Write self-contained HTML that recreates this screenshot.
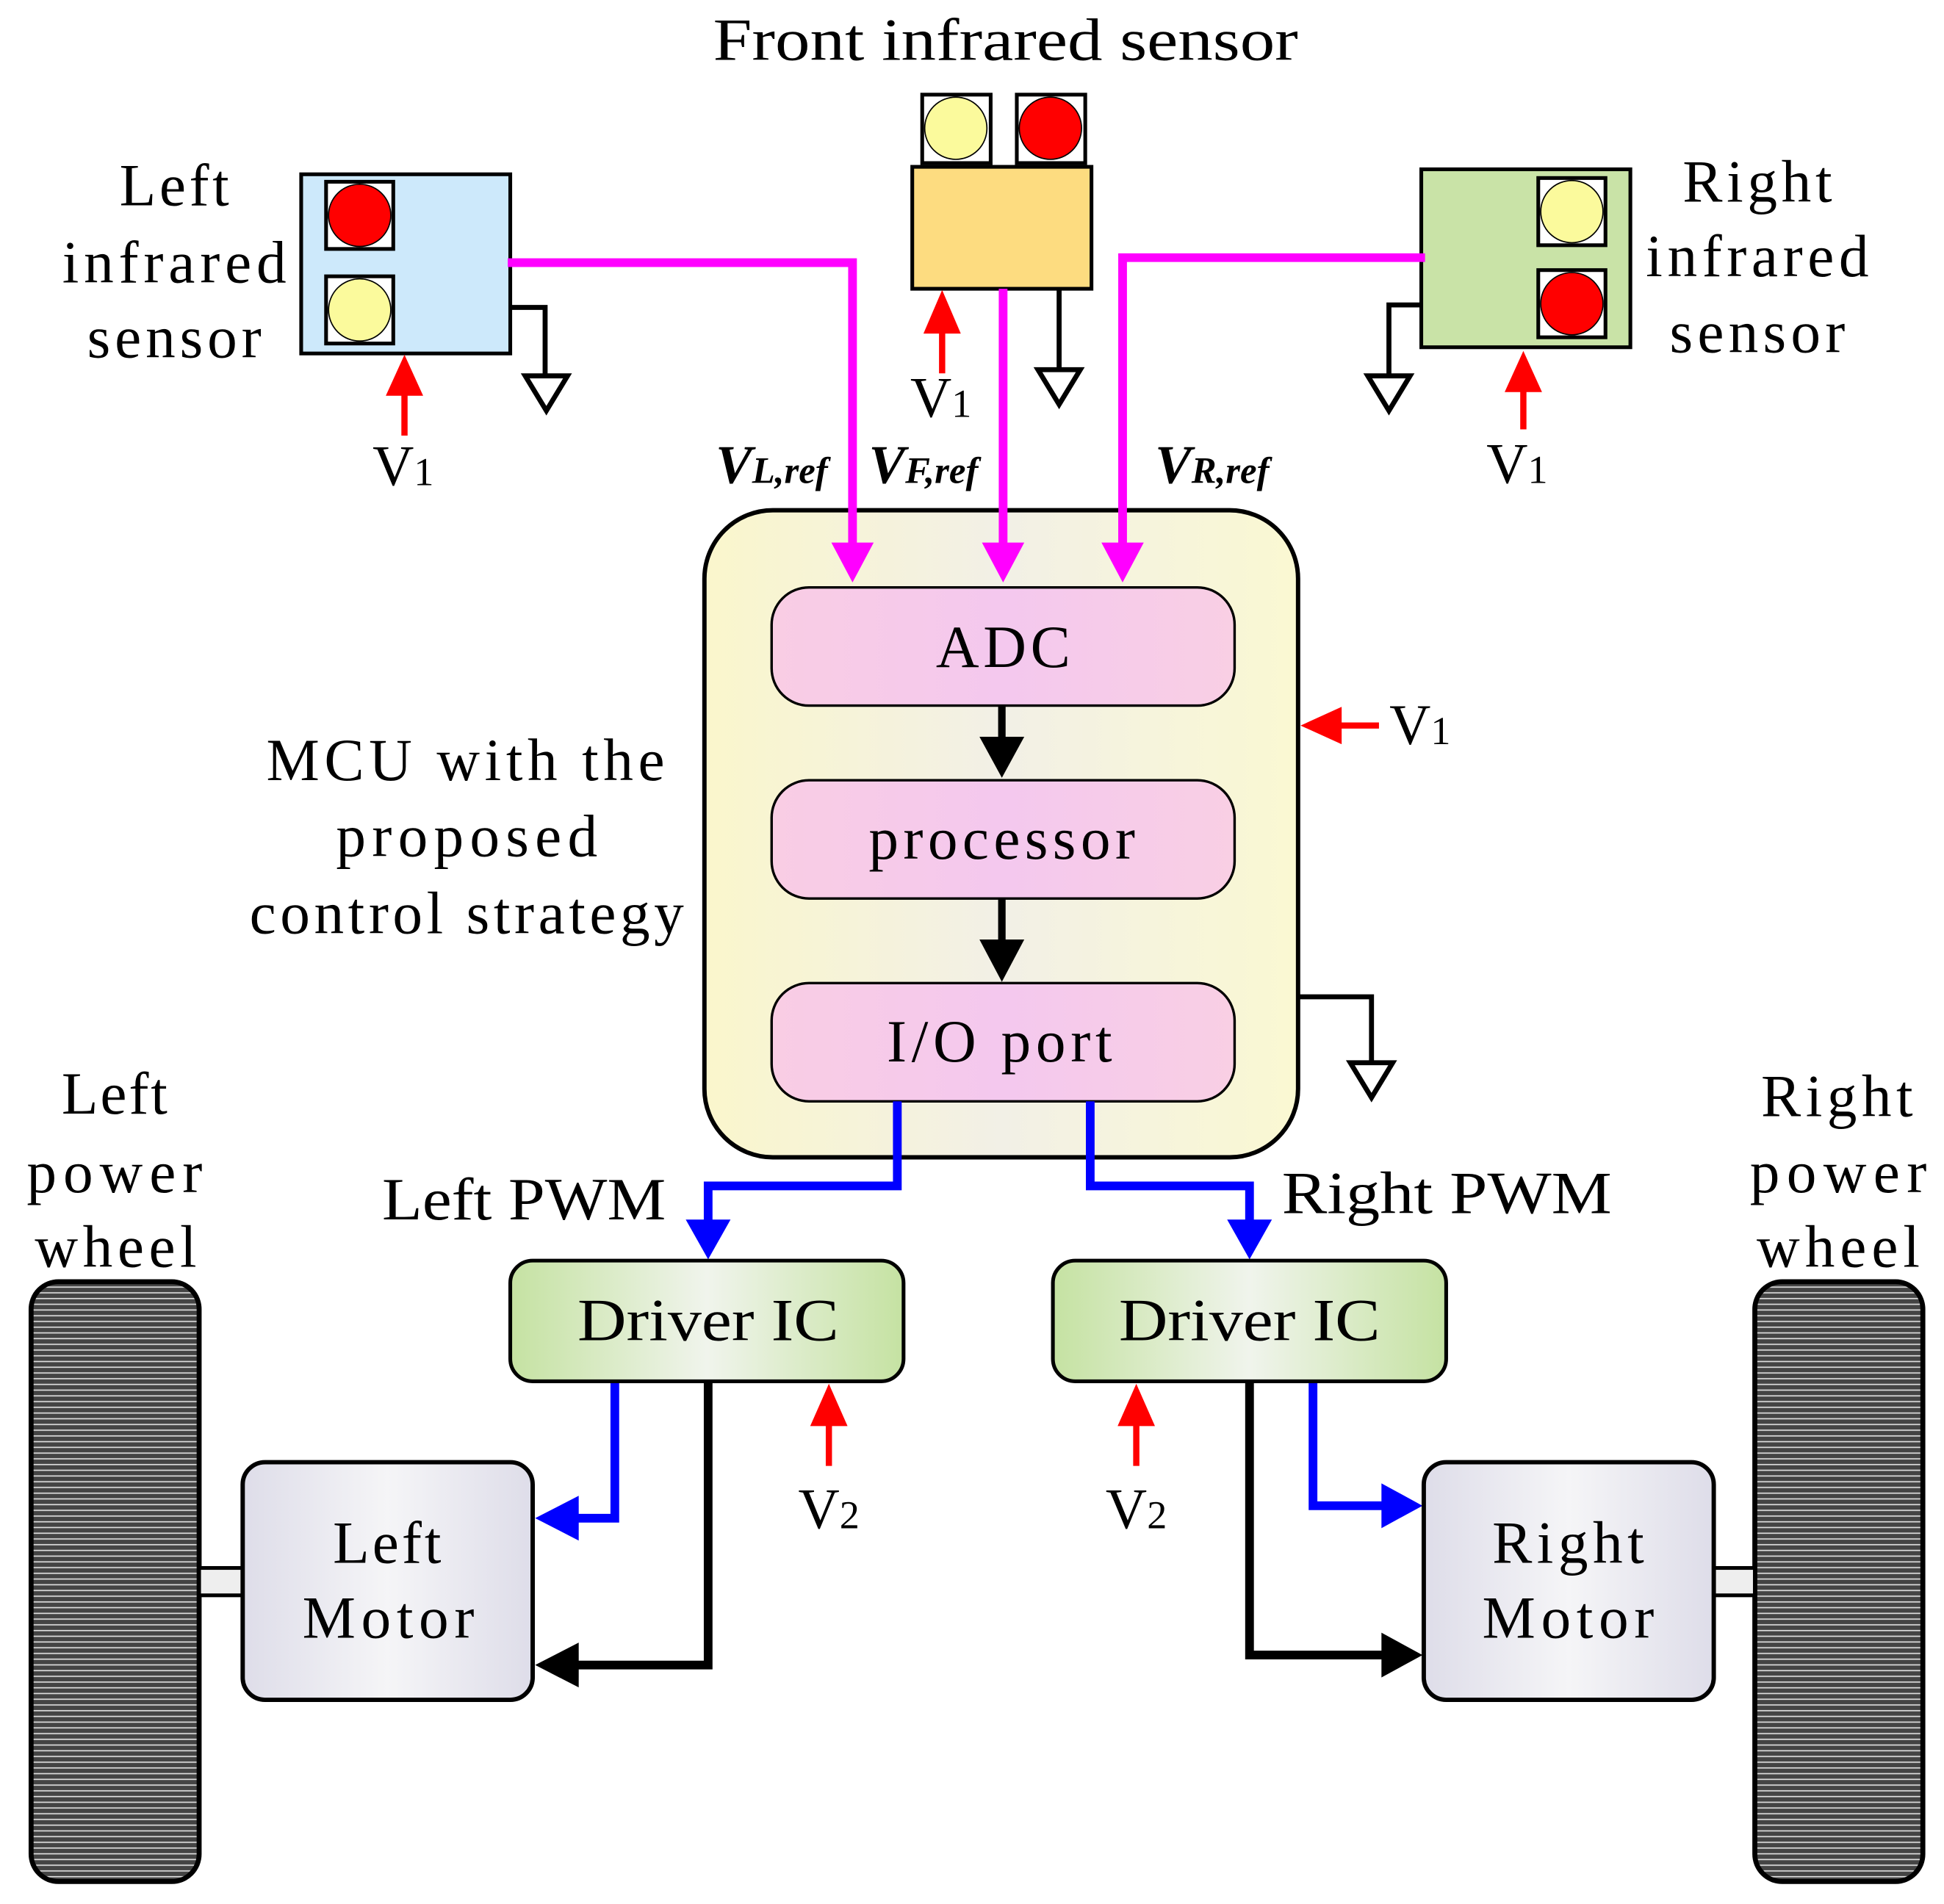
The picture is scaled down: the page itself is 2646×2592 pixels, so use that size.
<!DOCTYPE html>
<html><head><meta charset="utf-8"><style>
html,body{margin:0;padding:0;background:#fff;}
svg{display:block;}
text{font-family:"Liberation Serif",serif;fill:#000;}
</style></head><body>
<svg width="2646" height="2592" viewBox="0 0 1562 1530" xmlns="http://www.w3.org/2000/svg">
<defs>
<linearGradient id="mcu" x1="0" x2="1" y1="0" y2="0">
<stop offset="0" stop-color="#faf6cc"/><stop offset="0.5" stop-color="#f2f0e6"/><stop offset="1" stop-color="#faf8d2"/></linearGradient>
<linearGradient id="pink" x1="0" x2="1"><stop offset="0" stop-color="#f9cde4"/><stop offset="0.5" stop-color="#f4c8ee"/><stop offset="1" stop-color="#f9cfe4"/></linearGradient>
<linearGradient id="drv" x1="0" x2="1"><stop offset="0" stop-color="#c5e2a2"/><stop offset="0.5" stop-color="#f0f4ec"/><stop offset="1" stop-color="#c5e2a2"/></linearGradient>
<linearGradient id="mot" x1="0" x2="1"><stop offset="0" stop-color="#dedde9"/><stop offset="0.5" stop-color="#f5f5f7"/><stop offset="1" stop-color="#dedde9"/></linearGradient>
<pattern id="stripe" width="10" height="4.6" patternUnits="userSpaceOnUse">
<rect width="10" height="4.6" fill="#444"/><rect y="3.4" width="10" height="1" fill="#ddd"/></pattern>
</defs>

<!-- Title -->
<text x="808" y="48" font-size="48" text-anchor="middle" textLength="470" lengthAdjust="spacingAndGlyphs">Front infrared sensor</text>

<!-- Left sensor -->
<rect x="242" y="140" width="168" height="144" fill="#cde9fb" stroke="#000" stroke-width="3"/>
<rect x="262" y="146" width="54" height="54" fill="#fff" stroke="#000" stroke-width="3"/>
<circle cx="289" cy="173" r="25" fill="#f00" stroke="#000" stroke-width="1"/>
<rect x="262" y="222" width="54" height="54" fill="#fff" stroke="#000" stroke-width="3"/>
<circle cx="289" cy="249" r="25" fill="#fbfa9c" stroke="#000" stroke-width="1"/>
<g font-size="48" text-anchor="middle" lengthAdjust="spacingAndGlyphs">
<text x="140" y="165" textLength="88">Left</text><text x="140" y="227" textLength="180">infrared</text><text x="140" y="287" textLength="140">sensor</text>
</g>
<polyline points="410,247 438,247 438,302" fill="none" stroke="#000" stroke-width="4"/>
<polygon points="422,302 456,302 439,330" fill="#fff" stroke="#000" stroke-width="4"/>

<!-- Front sensor -->
<rect x="733" y="134" width="144" height="98" fill="#fddc80" stroke="#000" stroke-width="3"/>
<rect x="741" y="76" width="55" height="55" fill="#fff" stroke="#000" stroke-width="3"/>
<circle cx="768" cy="103" r="25" fill="#fbfa9c" stroke="#000" stroke-width="1"/>
<rect x="817" y="76" width="55" height="55" fill="#fff" stroke="#000" stroke-width="3"/>
<circle cx="844" cy="103" r="25" fill="#f00" stroke="#000" stroke-width="1"/>
<line x1="851" y1="232" x2="851" y2="297" stroke="#000" stroke-width="4"/>
<polygon points="834,297 868,297 851,325" fill="#fff" stroke="#000" stroke-width="4"/>

<!-- Right sensor -->
<rect x="1142" y="136" width="168" height="143" fill="#c9e3a7" stroke="#000" stroke-width="3"/>
<rect x="1236" y="143" width="54" height="54" fill="#fff" stroke="#000" stroke-width="3"/>
<circle cx="1263" cy="170" r="25" fill="#fbfa9c" stroke="#000" stroke-width="1"/>
<rect x="1236" y="217" width="54" height="54" fill="#fff" stroke="#000" stroke-width="3"/>
<circle cx="1263" cy="244" r="25" fill="#f00" stroke="#000" stroke-width="1"/>
<g font-size="48" text-anchor="middle" lengthAdjust="spacingAndGlyphs">
<text x="1412" y="162" textLength="120">Right</text><text x="1412" y="222" textLength="179">infrared</text><text x="1412" y="283" textLength="141">sensor</text>
</g>
<polyline points="1142,245 1116,245 1116,302" fill="none" stroke="#000" stroke-width="4"/>
<polygon points="1099,302 1133,302 1116,330" fill="#fff" stroke="#000" stroke-width="4"/>

<!-- MCU -->
<rect x="566" y="410" width="477" height="520" rx="55" fill="url(#mcu)" stroke="#000" stroke-width="3.5"/>
<polyline points="1043,801 1102,801 1102,854" fill="none" stroke="#000" stroke-width="4"/>
<polygon points="1085,854 1119,854 1102,882" fill="#fff" stroke="#000" stroke-width="4"/>
<rect x="620" y="472" width="372" height="95" rx="30" fill="url(#pink)" stroke="#000" stroke-width="2"/>
<rect x="620" y="627" width="372" height="95" rx="30" fill="url(#pink)" stroke="#000" stroke-width="2"/>
<rect x="620" y="790" width="372" height="95" rx="30" fill="url(#pink)" stroke="#000" stroke-width="2"/>
<g font-size="48" text-anchor="middle" lengthAdjust="spacingAndGlyphs">
<text x="806" y="536" textLength="108">ADC</text>
<text x="805" y="690" textLength="214">processor</text>
<text x="803" y="853" textLength="181">I/O port</text>
</g>
<g stroke="#000" stroke-width="6"><line x1="805" y1="567" x2="805" y2="595"/><line x1="805" y1="722" x2="805" y2="758"/></g>
<polygon points="787,592 823,592 805,625" fill="#000"/>
<polygon points="787,755 823,755 805,789" fill="#000"/>
<g font-size="48" text-anchor="middle" lengthAdjust="spacingAndGlyphs">
<text x="374" y="627" textLength="320">MCU with the</text><text x="375" y="688" textLength="210">proposed</text><text x="375" y="750" textLength="349">control strategy</text>
</g>

<!-- magenta lines -->
<g stroke="#f0f" stroke-width="7" fill="none">
<polyline points="408,211 685,211 685,440"/>
<polyline points="806,232 806,440"/>
<polyline points="1145,207 902,207 902,440"/>
</g>
<g fill="#f0f">
<polygon points="668,436 702,436 685,468"/>
<polygon points="789,436 823,436 806,468"/>
<polygon points="885,436 919,436 902,468"/>
</g>

<!-- red V arrows -->
<g stroke="#f00" stroke-width="5"><line x1="325" y1="350" x2="325" y2="305"/><line x1="757" y1="300" x2="757" y2="255"/><line x1="1224" y1="345" x2="1224" y2="302"/><line x1="1108" y1="583" x2="1065" y2="583"/>
<line x1="666" y1="1178" x2="666" y2="1135"/><line x1="913" y1="1178" x2="913" y2="1135"/></g>
<g fill="#f00">
<polygon points="310,318 340,318 325,285"/>
<polygon points="742,268 772,268 757,233"/>
<polygon points="1209,315 1239,315 1224,282"/>
<polygon points="1078,568 1078,598 1045,583"/>
<polygon points="651,1146 681,1146 666,1112"/>
<polygon points="898,1146 928,1146 913,1112"/>
</g>
<g font-size="46" text-anchor="middle">
<text x="324" y="390">V<tspan font-size="32">1</tspan></text>
<text x="756" y="335">V<tspan font-size="32">1</tspan></text>
<text x="1219" y="388">V<tspan font-size="32">1</tspan></text>
<text x="1141" y="598">V<tspan font-size="32">1</tspan></text>
<text x="666" y="1228">V<tspan font-size="32">2</tspan></text>
<text x="913" y="1228">V<tspan font-size="32">2</tspan></text>
</g>
<g font-size="44" font-style="italic" font-weight="bold">
<text x="575" y="388">V<tspan font-size="30">L,ref</tspan></text>
<text x="698" y="388">V<tspan font-size="30">F,ref</tspan></text>
<text x="928" y="388">V<tspan font-size="30">R,ref</tspan></text>
</g>

<!-- blue PWM -->
<g stroke="#00f" stroke-width="7" fill="none">
<polyline points="721,885 721,953 569,953 569,985"/>
<polyline points="876,885 876,953 1004,953 1004,985"/>
<polyline points="494,1107 494,1220 460,1220"/>
<polyline points="1055,1107 1055,1210 1115,1210"/>
</g>
<g fill="#00f">
<polygon points="551,980 587,980 569,1012"/>
<polygon points="986,980 1022,980 1004,1012"/>
<polygon points="465,1202 465,1238 430,1220"/>
<polygon points="1110,1192 1110,1228 1143,1210"/>
</g>
<text x="307" y="980" font-size="48" textLength="228" lengthAdjust="spacingAndGlyphs">Left PWM</text>
<text x="1030" y="975" font-size="48" textLength="265" lengthAdjust="spacingAndGlyphs">Right PWM</text>

<!-- black driver lines -->
<g stroke="#000" stroke-width="7" fill="none">
<polyline points="569,1107 569,1338 460,1338"/>
<polyline points="1004,1107 1004,1330 1115,1330"/>
</g>
<polygon points="465,1320 465,1356 430,1338" fill="#000"/>
<polygon points="1110,1312 1110,1348 1143,1330" fill="#000"/>

<!-- Driver ICs -->
<rect x="410" y="1013" width="316" height="97" rx="18" fill="url(#drv)" stroke="#000" stroke-width="3"/>
<rect x="846" y="1013" width="316" height="97" rx="18" fill="url(#drv)" stroke="#000" stroke-width="3"/>
<text x="569" y="1077" font-size="48" text-anchor="middle" textLength="210" lengthAdjust="spacingAndGlyphs">Driver IC</text>
<text x="1004" y="1077" font-size="48" text-anchor="middle" textLength="210" lengthAdjust="spacingAndGlyphs">Driver IC</text>

<!-- wheels -->
<rect x="25" y="1030" width="135" height="482" rx="22" fill="url(#stripe)" stroke="#000" stroke-width="4"/>
<rect x="1410" y="1030" width="135" height="482" rx="22" fill="url(#stripe)" stroke="#000" stroke-width="4"/>
<rect x="160" y="1260" width="35" height="22" fill="#eee" stroke="#000" stroke-width="3"/>
<rect x="1377" y="1260" width="33" height="22" fill="#eee" stroke="#000" stroke-width="3"/>
<g font-size="48" text-anchor="middle" lengthAdjust="spacingAndGlyphs">
<text x="92" y="895" textLength="85">Left</text><text x="92" y="958" textLength="141">power</text><text x="93" y="1018" textLength="130">wheel</text>
<text x="1476" y="897" textLength="122">Right</text><text x="1477" y="958" textLength="142">power</text><text x="1477" y="1018" textLength="131">wheel</text>
</g>

<!-- motors -->
<rect x="195" y="1175" width="233" height="191" rx="18" fill="url(#mot)" stroke="#000" stroke-width="3.5"/>
<rect x="1144" y="1175" width="233" height="191" rx="18" fill="url(#mot)" stroke="#000" stroke-width="3.5"/>
<g font-size="48" text-anchor="middle" lengthAdjust="spacingAndGlyphs">
<text x="311" y="1256" textLength="87">Left</text><text x="312" y="1316" textLength="138">Motor</text>
<text x="1260" y="1256" textLength="122">Right</text><text x="1260" y="1316" textLength="138">Motor</text>
</g>
</svg>
</body></html>
